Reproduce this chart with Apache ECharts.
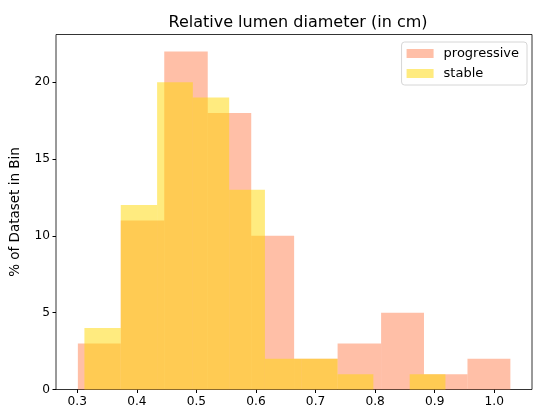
<!DOCTYPE html>
<html lang="en">
<head>
    <meta charset="UTF-8">
    <script src="https://cdn.jsdelivr.net/npm/echarts@6/dist/echarts.min.js"></script>
    <title>Relative lumen diameter</title>
    <style>
        html, body { margin: 0; padding: 0; background: #fff; }
        #chart { width: 534px; height: 412px; }
    </style>
</head>
<body>
<div id="chart"></div>
<script type="text/javascript">
    // bin edges and bin heights (% of dataset)
    var progressiveEdges = [0.301, 0.373, 0.446, 0.519, 0.592, 0.664, 0.737, 0.810, 0.882, 0.955, 1.027];
    var progressiveValues = [3, 11, 22, 18, 10, 2, 3, 5, 1, 2];
    var stableEdges = [0.312, 0.373, 0.434, 0.494, 0.555, 0.615, 0.676, 0.737, 0.797, 0.858, 0.918];
    var stableValues = [4, 12, 20, 19, 13, 2, 2, 1, 0, 1];
    var xTicks = [0.3, 0.4, 0.5, 0.6, 0.7, 0.8, 0.9, 1.0];
    var yTicks = [0, 5, 10, 15, 20];

    function toBins(edges, values) {
        var d = [];
        for (var i = 0; i < values.length; i++) {
            d.push([edges[i], edges[i + 1], values[i]]);
        }
        return d;
    }

    function renderBin(params, api) {
        var start = api.coord([api.value(0), api.value(2)]);
        var end = api.coord([api.value(1), 0]);
        return {
            type: 'rect',
            shape: { x: start[0], y: start[1], width: end[0] - start[0], height: end[1] - start[1] },
            style: { fill: api.visual('color') }
        };
    }

    var font = 'DejaVu Sans';
    var myChart = echarts.init(document.getElementById('chart'));
    var option = {
        animation: false,
        title: {
            text: 'Relative lumen diameter (in cm)',
            left: 293,
            textAlign: 'center',
            top: 10,
            textStyle: { fontFamily: font, fontSize: 16, fontWeight: 'normal', color: '#000' }
        },
        legend: {
            orient: 'vertical',
            right: 7,
            top: 42,
            padding: [5, 8, 5, 5],
            itemWidth: 27,
            itemHeight: 9,
            itemGap: 7,
            icon: 'rect',
            backgroundColor: '#fff',
            borderColor: '#d6d6d6',
            borderWidth: 1,
            borderRadius: 3,
            textStyle: { fontFamily: font, fontSize: 13, color: '#000', padding: [0, 0, 0, 5] },
            data: ['progressive', 'stable']
        },
        grid: {
            left: 55,
            right: 2,
            top: 34.5,
            bottom: 22.5,
            show: true,
            borderColor: '#000',
            borderWidth: 0.8,
            backgroundColor: 'transparent'
        },
        xAxis: {
            type: 'value',
            min: 0.2643,
            max: 1.0633,
            splitLine: { show: false },
            axisLine: { show: false },
            axisTick: { show: true, length: 3.5, lineStyle: { color: '#000' }, customValues: xTicks },
            axisLabel: {
                customValues: xTicks,
                fontFamily: font, fontSize: 12.2, color: '#000', margin: 6,
                formatter: function (v) { return v.toFixed(1); }
            }
        },
        yAxis: {
            type: 'value',
            min: 0,
            max: 23.1,
            name: '% of Dataset in Bin',
            nameLocation: 'middle',
            nameGap: 34,
            nameTextStyle: { fontFamily: font, fontSize: 13.5, color: '#000' },
            splitLine: { show: false },
            axisLine: { show: false },
            axisTick: { show: true, length: 3.5, lineStyle: { color: '#000' }, customValues: yTicks },
            axisLabel: { customValues: yTicks, fontFamily: font, fontSize: 12.2, color: '#000', margin: 6 }
        },
        series: [
            {
                name: 'progressive',
                type: 'custom',
                renderItem: renderBin,
                itemStyle: { color: 'rgba(255,127,80,0.5)' },
                encode: { x: [0, 1], y: 2 },
                data: toBins(progressiveEdges, progressiveValues)
            },
            {
                name: 'stable',
                type: 'custom',
                renderItem: renderBin,
                itemStyle: { color: 'rgba(255,215,0,0.5)' },
                encode: { x: [0, 1], y: 2 },
                data: toBins(stableEdges, stableValues)
            }
        ]
    };
    myChart.setOption(option);
</script>
</body>
</html>
